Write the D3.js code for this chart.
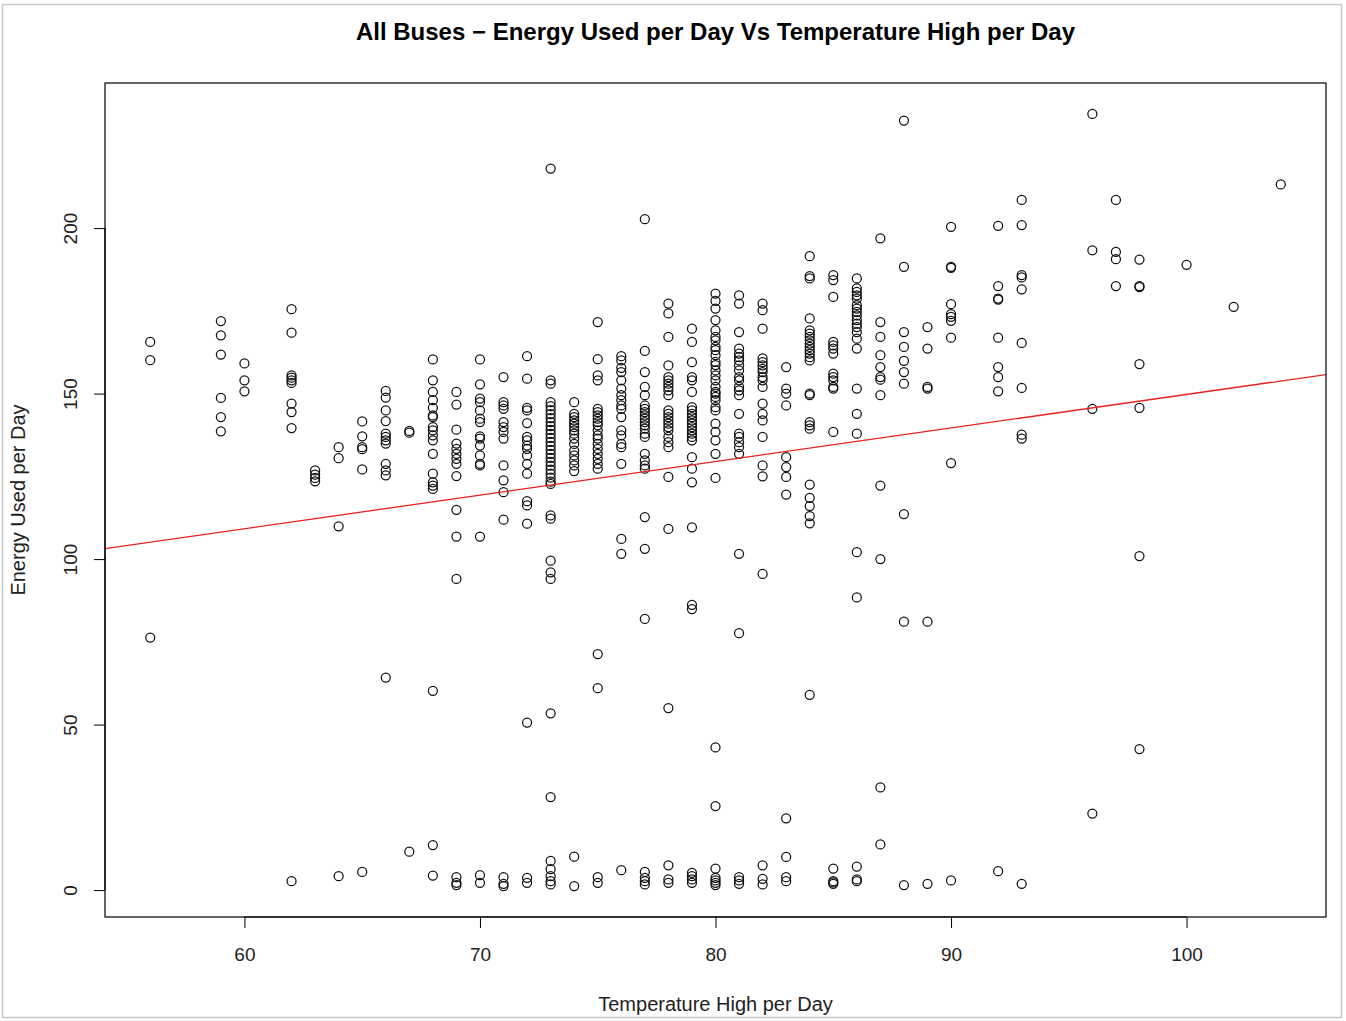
<!DOCTYPE html>
<html>
<head>
<meta charset="utf-8">
<script src="https://cdn.jsdelivr.net/npm/d3@7"></script>
<style>
  html, body { margin: 0; padding: 0; background: #ffffff; }
  svg { display: block; font-family: "Liberation Sans", Arial, sans-serif; }
</style>
</head>
<body>
<svg id="chart" width="1346" height="1021"></svg>
<script>
// ---------------- data ----------------
const chartTitle = "All Buses \u2212 Energy Used per Day Vs Temperature High per Day";
const xAxisTitle = "Temperature High per Day";
const yAxisTitle = "Energy Used per Day";

const xTickValues = [60, 70, 80, 90, 100];
const yTickValues = [0, 50, 100, 150, 200];

// temperature levels (x) and the energy readings observed at each level (y)
const tempLevels = [56, 59, 60, 62, 63, 64, 65, 66, 67, 68, 69, 70, 71, 72, 73, 74, 75, 76, 77, 78, 79, 80,
                    81, 82, 83, 84, 85, 86, 87, 88, 89, 90, 92, 93, 96, 97, 98, 100, 102, 104];

const energyAtTemp = [
  /*56*/ [165.6, 160.1, 76.3],
  /*59*/ [171.9, 167.6, 161.8, 148.7, 142.9, 138.6],
  /*60*/ [159.1, 154.0, 150.7],
  /*62*/ [175.5, 168.4, 155.5, 154.8, 154.0, 153.2, 147.0, 144.4, 139.6, 2.7],
  /*63*/ [126.8, 125.5, 124.5, 123.5],
  /*64*/ [133.8, 130.5, 109.9, 4.2],
  /*65*/ [141.6, 137.1, 133.8, 133.2, 127.1, 5.5],
  /*66*/ [150.8, 148.8, 144.9, 141.7, 137.9, 136.9, 135.9, 134.9, 128.8, 126.8, 125.3, 64.2],
  /*67*/ [138.7, 138.2, 11.6],
  /*68*/ [160.3, 154.0, 150.5, 148.0, 145.7, 143.4, 142.9, 139.9, 138.9, 137.4, 135.9, 131.8, 125.8, 123.2, 122.2, 121.2, 60.2, 13.6, 4.4],
  /*69*/ [150.5, 146.7, 139.1, 134.9, 133.3, 131.8, 130.3, 128.8, 125.1, 114.9, 106.8, 94.0, 3.9, 2.2, 1.5],
  /*70*/ [160.3, 152.8, 148.5, 147.4, 144.9, 142.4, 141.4, 137.1, 136.4, 134.3, 131.3, 128.8, 128.3, 106.8, 4.5, 2.2],
  /*71*/ [155.0, 147.4, 146.4, 145.4, 141.4, 139.9, 138.4, 136.4, 128.3, 123.8, 120.2, 111.9, 3.9, 1.9, 1.2],
  /*72*/ [161.3, 154.5, 145.7, 144.9, 141.1, 136.9, 135.9, 134.3, 133.3, 131.3, 128.8, 125.8, 117.5, 116.2, 110.7, 50.6, 3.7, 2.2],
  /*73*/ [218.0, 154.0, 153.0, 147.4, 146.2, 145.0, 143.8, 142.6, 141.4, 140.2, 139.0, 137.8, 136.6, 135.4, 134.2, 133.0, 131.8, 130.6, 129.4, 128.2, 127.0, 125.8, 124.6, 123.4, 122.7, 113.2, 112.2, 99.5, 96.0, 94.0, 53.4, 28.1, 8.8, 6.3, 4.2, 2.7, 1.7],
  /*74*/ [147.4, 143.9, 142.9, 141.9, 140.9, 139.9, 138.9, 137.9, 136.4, 134.8, 132.8, 131.3, 129.8, 128.3, 126.6, 10.1, 1.2],
  /*75*/ [171.6, 160.4, 155.5, 154.0, 145.4, 144.4, 143.4, 142.4, 141.4, 140.4, 138.9, 137.4, 136.4, 134.8, 133.3, 131.8, 130.3, 128.8, 127.3, 71.3, 61.0, 3.9, 2.2],
  /*76*/ [161.3, 160.0, 157.8, 156.5, 154.0, 151.5, 149.5, 148.0, 146.4, 145.4, 142.9, 138.9, 137.4, 134.8, 133.8, 128.8, 106.1, 101.6, 6.0],
  /*77*/ [202.7, 162.9, 156.5, 152.0, 149.5, 146.4, 145.4, 144.4, 143.4, 142.4, 141.4, 140.4, 139.4, 137.9, 136.9, 131.8, 129.8, 128.3, 127.3, 112.7, 103.1, 81.9, 5.5, 3.7, 2.7, 1.7],
  /*78*/ [177.2, 174.2, 167.1, 158.5, 155.0, 154.0, 153.0, 152.0, 151.0, 149.5, 144.9, 143.9, 142.9, 141.9, 140.9, 139.9, 138.9, 136.9, 135.3, 133.8, 124.8, 109.1, 55.0, 7.5, 3.2, 2.2],
  /*79*/ [169.6, 165.6, 159.5, 155.0, 154.0, 150.5, 145.9, 144.9, 143.9, 142.9, 141.9, 140.9, 139.9, 138.9, 137.9, 136.9, 135.9, 130.8, 127.3, 123.2, 109.6, 86.2, 84.9, 5.2, 4.2, 3.2, 2.2],
  /*80*/ [180.2, 178.0, 175.7, 172.2, 169.1, 167.1, 166.1, 164.1, 163.1, 161.6, 159.6, 158.6, 157.0, 155.5, 154.0, 152.0, 150.5, 150.0, 149.0, 148.0, 145.9, 144.9, 140.9, 138.4, 135.9, 131.8, 124.5, 43.1, 25.4, 6.5, 3.7, 2.9, 2.2, 1.5],
  /*81*/ [179.7, 177.2, 168.6, 163.6, 162.1, 161.0, 160.0, 158.5, 157.0, 155.0, 154.0, 152.0, 151.0, 149.5, 143.9, 137.9, 136.9, 135.3, 133.8, 131.8, 101.6, 77.6, 3.9, 2.9, 1.9],
  /*82*/ [177.2, 175.2, 169.6, 160.6, 159.5, 158.5, 157.5, 156.5, 155.0, 154.0, 152.0, 147.0, 143.9, 141.9, 136.9, 128.3, 125.0, 95.5, 7.5, 3.4, 1.7],
  /*83*/ [158.0, 151.5, 150.0, 146.4, 130.8, 127.8, 124.8, 119.5, 21.7, 10.0, 3.9, 2.7],
  /*84*/ [191.5, 185.5, 184.8, 172.7, 169.1, 168.1, 167.1, 166.1, 165.1, 164.1, 163.1, 162.1, 161.0, 160.0, 150.0, 149.5, 141.4, 140.4, 139.4, 122.5, 118.5, 116.0, 113.0, 110.8, 59.0],
  /*85*/ [185.8, 184.3, 179.2, 165.6, 164.6, 163.6, 162.1, 156.0, 155.0, 154.0, 152.0, 151.5, 138.4, 6.5, 2.7, 2.3, 1.9],
  /*86*/ [184.8, 181.8, 180.7, 179.7, 178.7, 176.7, 175.7, 174.7, 173.6, 172.2, 171.1, 170.1, 168.6, 166.6, 163.6, 151.5, 143.9, 137.9, 102.1, 88.4, 7.1, 3.2, 2.7],
  /*87*/ [196.9, 171.6, 167.1, 161.6, 158.0, 155.0, 154.2, 149.5, 122.2, 100.0, 31.0, 13.8],
  /*88*/ [232.5, 188.3, 168.6, 164.1, 159.9, 156.5, 153.0, 113.6, 81.1, 1.5],
  /*89*/ [170.1, 163.6, 152.0, 151.5, 81.1, 1.9],
  /*90*/ [200.4, 188.3, 188.0, 177.0, 174.0, 173.2, 172.0, 166.9, 129.0, 2.9],
  /*92*/ [200.7, 182.5, 178.7, 178.4, 166.9, 158.0, 155.0, 150.7, 5.7],
  /*93*/ [208.5, 200.9, 185.8, 185.1, 181.5, 165.3, 151.7, 137.6, 136.4, 1.9],
  /*96*/ [234.5, 193.3, 145.4, 23.1],
  /*97*/ [208.5, 192.8, 190.6, 182.5],
  /*98*/ [190.5, 182.5, 182.2, 158.9, 145.7, 100.9, 42.6],
  /*100*/ [188.9],
  /*102*/ [176.2],
  /*104*/ [213.2]
];

// fitted regression line (intercept, slope) as drawn in the reference
const fitIntercept = 48.34;
const fitSlope = 1.014;

// ---------------- layout ----------------
const box = { left: 105, right: 1326, top: 83, bottom: 917 };

const points = [];
tempLevels.forEach((t, i) => energyAtTemp[i].forEach(e => points.push({ t, e })));

const tMin = d3.min(points, d => d.t), tMax = d3.max(points, d => d.t);
const eMin = d3.min(points, d => d.e), eMax = d3.max(points, d => d.e);
const tPad = (tMax - tMin) * 0.04, ePad = (eMax - eMin) * 0.04;

// R-style 4% extension of the data range
const x = d3.scaleLinear().domain([tMin - tPad, tMax + tPad]).range([box.left, box.right]);
const y = d3.scaleLinear().domain([eMin - ePad, eMax + ePad]).range([box.bottom, box.top]);

const svg = d3.select("#chart");

// outer frame of the figure
svg.append("rect").attr("x", 2.5).attr("y", 4.5).attr("width", 1339).attr("height", 1013)
  .attr("fill", "none").attr("stroke", "#c8c8c8").attr("stroke-width", 1.5);

// clip for plot region
svg.append("defs").append("clipPath").attr("id", "plotclip")
  .append("rect").attr("x", box.left).attr("y", box.top)
  .attr("width", box.right - box.left).attr("height", box.bottom - box.top);

// points
svg.append("g").selectAll("circle").data(points).join("circle")
  .attr("cx", d => x(d.t)).attr("cy", d => y(d.e)).attr("r", 4.5)
  .attr("fill", "none").attr("stroke", "#111").attr("stroke-width", 1.25);

// regression line
const [dx0, dx1] = x.domain();
svg.append("line").attr("clip-path", "url(#plotclip)")
  .attr("x1", x(dx0)).attr("y1", y(fitIntercept + fitSlope * dx0))
  .attr("x2", x(dx1)).attr("y2", y(fitIntercept + fitSlope * dx1))
  .attr("stroke", "#e8211f").attr("stroke-width", 1.3);

// plot box
svg.append("rect").attr("x", box.left).attr("y", box.top)
  .attr("width", box.right - box.left).attr("height", box.bottom - box.top)
  .attr("fill", "none").attr("stroke", "#000").attr("stroke-width", 1.2);

// x axis
const xAxis = svg.append("g").attr("transform", `translate(0,${box.bottom})`)
  .call(d3.axisBottom(x).tickValues(xTickValues).tickFormat(d3.format("d")).tickSize(11).tickPadding(20));
xAxis.select(".domain").remove();
xAxis.append("line").attr("x1", x(xTickValues[0])).attr("x2", x(xTickValues[xTickValues.length - 1]))
  .attr("stroke", "#000").attr("stroke-width", 1.2);
xAxis.selectAll(".tick line").attr("stroke", "#000").attr("stroke-width", 1);
xAxis.selectAll(".tick text").attr("font-size", 19).attr("fill", "#222")
  .attr("font-family", "Liberation Sans, Arial, sans-serif");

// y axis
const yAxis = svg.append("g").attr("transform", `translate(${box.left},0)`)
  .call(d3.axisLeft(y).tickValues(yTickValues).tickFormat(d3.format("d")).tickSize(11).tickPadding(0));
yAxis.select(".domain").remove();
yAxis.append("line").attr("y1", y(yTickValues[0])).attr("y2", y(yTickValues[yTickValues.length - 1]))
  .attr("stroke", "#000").attr("stroke-width", 1.2);
yAxis.selectAll(".tick line").attr("stroke", "#000").attr("stroke-width", 1);
yAxis.selectAll(".tick text")
  .attr("font-size", 19).attr("fill", "#222")
  .attr("font-family", "Liberation Sans, Arial, sans-serif")
  .attr("x", null).attr("dy", null)
  .attr("text-anchor", "middle")
  .attr("transform", "translate(-35,0) rotate(-90)")
  .attr("dominant-baseline", "central");

// title
svg.append("text").attr("x", (box.left + box.right) / 2).attr("y", 40)
  .attr("text-anchor", "middle").attr("font-size", 24).attr("font-weight", "bold")
  .attr("fill", "#000").text(chartTitle);

// axis titles
svg.append("text").attr("x", (box.left + box.right) / 2).attr("y", 1011)
  .attr("text-anchor", "middle").attr("font-size", 20).attr("fill", "#222").text(xAxisTitle);

svg.append("text")
  .attr("transform", `translate(25,${(box.top + box.bottom) / 2}) rotate(-90)`)
  .attr("text-anchor", "middle").attr("font-size", 20).attr("fill", "#222").text(yAxisTitle);
</script>
</body>
</html>
